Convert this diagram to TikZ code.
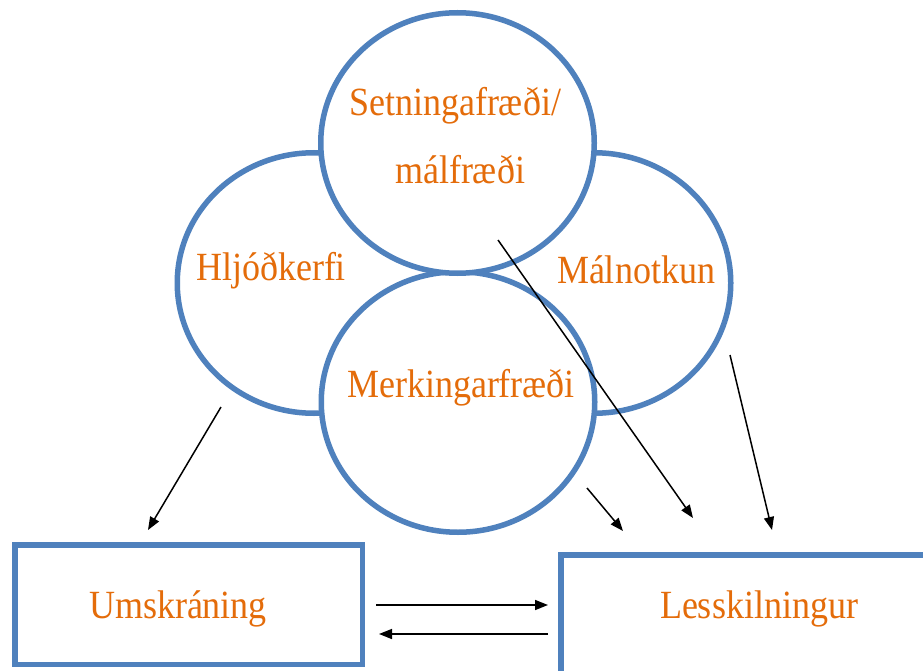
\documentclass[tikz,border=0pt]{standalone}
\usepackage{fontspec}
\setmainfont{Liberation Serif}[FakeStretch=0.9]
\usetikzlibrary{shapes.geometric,arrows.meta}
\definecolor{ringblue}{RGB}{79,129,189}
\definecolor{labelorange}{RGB}{228,108,10}
\begin{document}
\begin{tikzpicture}[x=1pt,y=-1pt,
  ring/.style={ellipse,draw=ringblue,line width=5.5pt,fill=white,
    minimum width=273.5pt,minimum height=260.5pt,inner sep=0pt},
  panel/.style={rectangle,draw=ringblue,line width=5.5pt,fill=white,inner sep=0pt},
  word/.style={text=labelorange,font=\fontsize{40}{48}\selectfont,anchor=base,inner sep=0pt},
  link/.style={line width=1.5pt,-{Triangle[length=13pt,width=10pt]}}]
\useasboundingbox (0,0) rectangle (923,671);
\clip (0,0) rectangle (923,671);
\fill[white] (0,0) rectangle (923,671);

% four overlapping language areas
\node[ring] (hljod)  at (314,283) {};
\node[ring] (notkun) at (594,283) {};
\node[ring] (merk)   at (458,402) {};
\node[ring] (setn)   at (457.5,143) {};

% outcome boxes
\node[panel,minimum width=347.5pt,minimum height=119.5pt] (umsk) at (188.5,604.5) {};
\node[panel,minimum width=400pt,minimum height=119.5pt] (less) at (760.75,614.75) {};

% labels
\node[word] (tsetn)  at (455,116) {Setningafræði/};
\node[word] (tmal)   at (460,183) {málfræði};
\node[word] (thljod) at (271,280) {Hljóðkerfi};
\node[word] (tnotk)  at (636,283) {Málnotkun};
\node[word] (tmerk)  at (461,397) {Merkingarfræði};
\node[word] (tumsk)  at (178,618) {Umskráning};
\node[word] (tless)  at (759,618) {Lesskilningur};

% arrow end points
\coordinate (h0) at (221,407);
\coordinate (h1) at (148,530);
\coordinate (s0) at (498,240);
\coordinate (s1) at (693,518);
\coordinate (m0) at (587,488);
\coordinate (m1) at (623,531);
\coordinate (n0) at (730,355);
\coordinate (n1) at (772,530);
\coordinate (u0) at (376,605);
\coordinate (u1) at (548,605);
\coordinate (l0) at (548,634);
\coordinate (l1) at (379,634);

\draw[link] (h0) -- (h1);
\draw[link] (s0) -- (s1);
\draw[link] (m0) -- (m1);
\draw[link] (n0) -- (n1);
\draw[link] (u0) -- (u1);
\draw[link] (l0) -- (l1);
\end{tikzpicture}
\end{document}
